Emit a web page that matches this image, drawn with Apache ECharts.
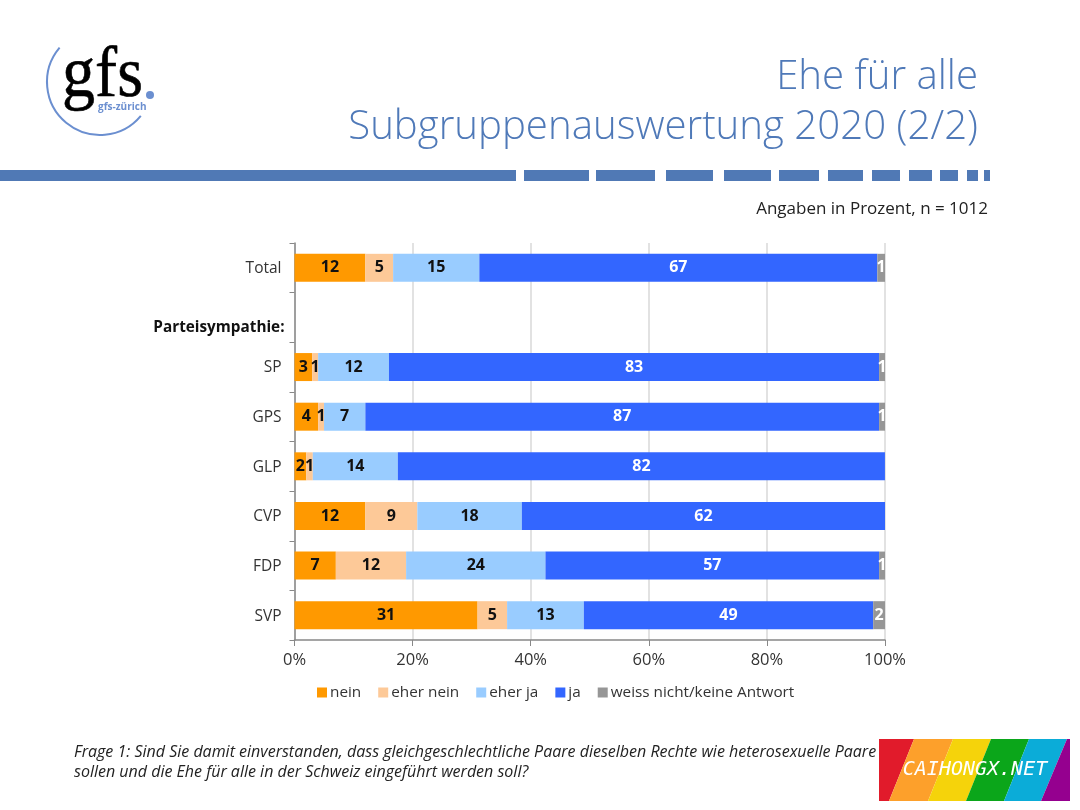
<!DOCTYPE html>
<html>
<head>
<meta charset="utf-8">
<style>html,body{margin:0;padding:0;background:#fff}#container{width:1080px;height:810px}</style>
<script src="https://cdn.jsdelivr.net/npm/echarts@6/dist/echarts.min.js"></script>
</head>
<body>
<div id="container"></div>
<script>
var categories = ['Total', 'Parteisympathie:', 'SP', 'GPS', 'GLP', 'CVP', 'FDP', 'SVP'];
var nein      = [12, null, 3, 4, 2, 12, 7, 31];
var eherNein  = [4.7, null, 1, 1, 1.1, 8.8, 11.9, 5];
var eherJa    = [14.6, null, 12, 7, 14.4, 17.7, 23.6, 13];
var ja        = [67.4, null, 83, 87, 82.49, 61.5, 56.5, 49];
var weissNicht = [1.3, null, 1, 1, 0, 0, 1, 2];
var names = ['nein', 'eher nein', 'eher ja', 'ja', 'weiss nicht/keine Antwort'];
var colors = ['#ff9900', '#fdc998', '#99ccff', '#3366ff', '#969696'];
var xTicks = [0, 100, 20];
var dashes = [[0,516],[524,589],[596,655],[666,713],[724,771],[779,819],[828,863],[872,900],[909,932],[940,958],[967,978],[984,990]];
var rainbow = [
    ['#e11b2b', 879, 914, 889, 879],
    ['#fda02b', 914, 953, 928, 889],
    ['#f5d30b', 953, 991, 966, 928],
    ['#0ba61a', 991, 1029, 1004, 966],
    ['#0bacd8', 1029, 1067, 1041, 1004],
    ['#95008f', 1067, 1070, 1070, 1041]
];

var fam = '"Open Sans","Noto Sans",sans-serif';
var blue = '#5079b5';
var gr = [];

// kopfbereich
gr.push({type:'text',style:{x:978,y:78,text:'Ehe für alle',textAlign:'right',textVerticalAlign:'middle',fill:'#4f79b8',font:'300 40.2px '+fam}});
gr.push({type:'text',style:{x:978,y:128,text:'Subgruppenauswertung 2020 (2/2)',textAlign:'right',textVerticalAlign:'middle',fill:'#4f79b8',font:'300 40.2px '+fam}});
for (var i = 0; i < dashes.length; i++) {
    gr.push({type:'rect',shape:{x:dashes[i][0],y:170,width:dashes[i][1]-dashes[i][0],height:11},style:{fill:blue}});
}
gr.push({type:'text',style:{x:988,y:209,text:'Angaben in Prozent, n = 1012',textAlign:'right',textVerticalAlign:'middle',fill:'#222',font:'17px '+fam}});

// logo
gr.push({type:'arc',shape:{cx:100,cy:82,r:53,startAngle:0.692,endAngle:3.846,clockwise:true},style:{stroke:'#6b8fd0',lineWidth:2,fill:null}});
gr.push({type:'text',x:62,y:113,scaleX:0.92,style:{x:0,y:0,text:'gfs',textAlign:'left',textVerticalAlign:'bottom',fill:'#000',stroke:'#000',lineWidth:0.6,font:'72px "Liberation Serif",serif'}});
gr.push({type:'circle',shape:{cx:150,cy:95,r:4},style:{fill:'#6b8fd0'}});
gr.push({type:'text',style:{x:98,y:107,text:'gfs-zürich',textAlign:'left',textVerticalAlign:'middle',fill:'#6b8fd0',font:'bold 10px '+fam}});

// fusszeile
gr.push({type:'text',style:{x:74,y:752,text:'Frage 1: Sind Sie damit einverstanden, dass gleichgeschlechtliche Paare dieselben Rechte wie heterosexuelle Paare',textVerticalAlign:'middle',fill:'#222',font:'italic 16px '+fam}});
gr.push({type:'text',style:{x:74,y:772,text:'sollen und die Ehe für alle in der Schweiz eingeführt werden soll?',textVerticalAlign:'middle',fill:'#222',font:'italic 16px '+fam}});

// wasserzeichen
for (var r = 0; r < rainbow.length; r++) {
    var s = rainbow[r];
    gr.push({type:'polygon',shape:{points:[[s[1],739],[s[2],739],[s[3],801],[s[4],801]]},style:{fill:s[0]}});
}
gr.push({type:'text',style:{x:975,y:770,text:'CAIHONGX.NET',textAlign:'center',textVerticalAlign:'middle',fill:'#fff',font:'italic 20px "DejaVu Sans Mono",monospace'}});

function makeSeries(idx, values, labelColor) {
    return {
        name: names[idx],
        type: 'bar',
        stack: 'a',
        barWidth: 28,
        data: values,
        itemStyle: {color: colors[idx]},
        label: {
            show: true,
            position: 'inside',
            color: labelColor,
            fontFamily: fam,
            fontWeight: 'bold',
            fontSize: 16,
            padding: [4, 0, 0, 0],
            formatter: function (p) {
                return p.value ? String(Math.round(p.value)) : '';
            }
        }
    };
}

var myChart = echarts.init(document.getElementById('container'));
myChart.setOption({
    animation: false,
    backgroundColor: '#fff',
    textStyle: {fontFamily: fam},
    grid: {left: 294.5, right: 195, top: 243, height: 397},
    legend: {
        left: 312, top: 680,
        itemWidth: 10, itemHeight: 10, itemGap: 17,
        icon: 'rect',
        selectedMode: false,
        textStyle: {fontSize: 15.3, color: '#333', fontFamily: fam, padding: [0, 0, 0, -2]},
        data: names
    },
    xAxis: {
        type: 'value',
        min: xTicks[0], max: xTicks[1], interval: xTicks[2],
        axisLine: {show: true, lineStyle: {color: '#888', width: 1.5}},
        axisTick: {show: true, length: 6, lineStyle: {color: '#888'}},
        splitLine: {show: true, lineStyle: {color: '#d9d9d9', width: 1.5}},
        axisLabel: {formatter: '{value}%', fontSize: 16.5, color: '#333', margin: 12}
    },
    yAxis: {
        type: 'category',
        inverse: true,
        data: categories,
        axisLine: {show: true, lineStyle: {color: '#888', width: 1.5}},
        axisTick: {show: true, length: 5, alignWithLabel: false, lineStyle: {color: '#888'}},
        axisLabel: {
            fontSize: 15.5, color: '#333', margin: 13, padding: [2, 0, 0, 0],
            formatter: function (v) {
                return v === 'Parteisympathie:' ? '{h|' + v + '}' : v;
            },
            rich: {h: {fontWeight: 'bold', fontSize: 15.3, color: '#111', fontFamily: fam, padding: [18, -3, 0, 0]}}
        }
    },
    series: [
        makeSeries(0, nein, '#111'),
        makeSeries(1, eherNein, '#111'),
        makeSeries(2, eherJa, '#111'),
        makeSeries(3, ja, '#fff'),
        makeSeries(4, weissNicht, '#fff')
    ],
    graphic: gr
});
</script>
</body>
</html>
